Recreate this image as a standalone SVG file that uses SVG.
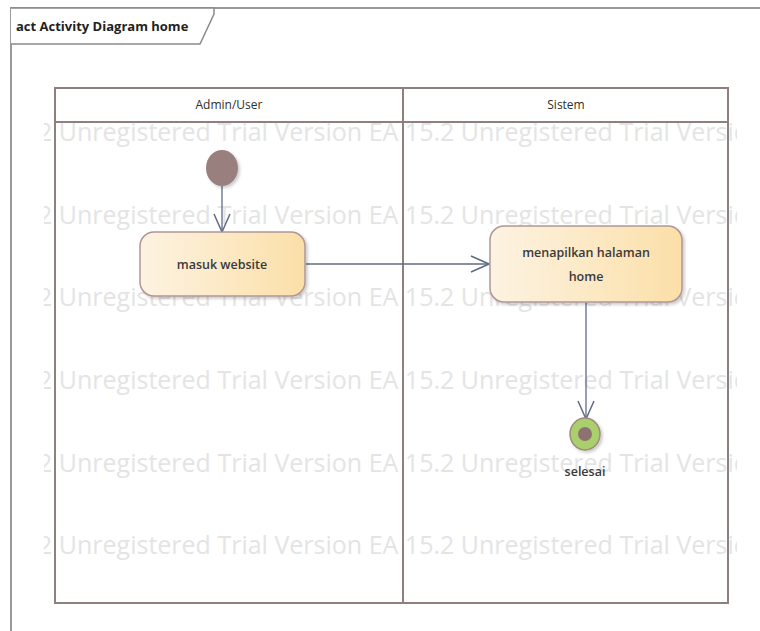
<svg xmlns="http://www.w3.org/2000/svg" width="760" height="631" viewBox="0 0 760 631">
<defs>
<linearGradient id="act" x1="0" y1="0" x2="1" y2="0">
<stop offset="0" stop-color="#fdf3e2"/>
<stop offset="1" stop-color="#fbdfa8"/>
</linearGradient>
<marker id="open" viewBox="0 0 20 20" refX="19" refY="10" markerWidth="20" markerHeight="20" markerUnits="userSpaceOnUse" orient="auto">
<path d="M1,2 L19,10 L1,18" fill="none" stroke="#5f6b86" stroke-width="1.5"/>
</marker>
<clipPath id="wm"><rect x="44" y="110" width="693" height="480"/></clipPath>
<filter id="sh" x="-10%" y="-10%" width="130%" height="130%"><feDropShadow dx="2" dy="2" stdDeviation="1.5" flood-color="#000" flood-opacity="0.2"/></filter>
</defs>
<style>
.frame{fill:none;stroke:#9a9a9a;stroke-width:2}
.lane{fill:none;stroke:#8f7f7f;stroke-width:2}
.wm{font-family:"Open Sans","Noto Sans",sans-serif;font-size:25px;fill:#e4e4e4}
.lbl{font-family:"Open Sans","Noto Sans",sans-serif;font-size:12.5px;font-weight:600;fill:#3a3a3a;text-anchor:middle}
.hdr{font-family:"Open Sans","Noto Sans",sans-serif;font-size:12px;fill:#2e2e2e;text-anchor:middle}
.box{fill:url(#act);stroke:#b09696;stroke-width:1.5}
.edge{fill:none;stroke:#5f6b86;stroke-width:1.3;marker-end:url(#open)}
</style>
<rect width="760" height="631" fill="#fff"/>
<g id="frame">
<path class="frame" d="M11,631 L11,8 L760,8"/>
<path d="M11,8 L214,8 L214,14 L200,44 L11,44" fill="#fff" stroke="#8a8a8a" stroke-width="1.5"/>
<text x="16" y="31" font-family="'Open Sans','Noto Sans',sans-serif" font-size="13" font-weight="700" fill="#222">act Activity Diagram home</text>
</g>
<g id="watermark" clip-path="url(#wm)">
<text class="wm" x="38" y="141">2 Unregistered Trial Version EA 15.2 Unregistered Trial Version</text>
<text class="wm" x="38" y="224">2 Unregistered Trial Version EA 15.2 Unregistered Trial Version</text>
<text class="wm" x="38" y="306">2 Unregistered Trial Version EA 15.2 Unregistered Trial Version</text>
<text class="wm" x="38" y="389">2 Unregistered Trial Version EA 15.2 Unregistered Trial Version</text>
<text class="wm" x="38" y="472">2 Unregistered Trial Version EA 15.2 Unregistered Trial Version</text>
<text class="wm" x="38" y="554">2 Unregistered Trial Version EA 15.2 Unregistered Trial Version</text>
</g>
<g id="lanes">
<rect class="lane" x="55" y="88" width="673" height="515"/>
<line class="lane" x1="55" y1="122" x2="728" y2="122"/>
<line class="lane" x1="403" y1="88" x2="403" y2="603"/>
<text class="hdr" x="229" y="109">Admin/User</text>
<text class="hdr" x="566" y="109">Sistem</text>
</g>
<g id="connectors">
<line class="edge" x1="222" y1="186" x2="222" y2="232"/>
<line class="edge" x1="306" y1="264" x2="489" y2="264"/>
<line class="edge" x1="586" y1="303" x2="586" y2="419"/>
</g>
<g id="start">
<ellipse cx="222" cy="168" rx="16" ry="18" fill="#9a7f7f" filter="url(#sh)"/>
</g>
<g id="masuk">
<rect class="box" x="140" y="232" width="165" height="64" rx="14" filter="url(#sh)"/>
<text class="lbl" x="222" y="269">masuk website</text>
</g>
<g id="menampilkan">
<rect class="box" x="490" y="226" width="192" height="76" rx="14" filter="url(#sh)"/>
<text class="lbl" x="586" y="257">menapilkan halaman</text>
<text class="lbl" x="586" y="281">home</text>
</g>
<g id="selesai">
<ellipse cx="585" cy="434" rx="15" ry="16" fill="#a9d06c" stroke="#a08a7a" stroke-width="1.5" filter="url(#sh)"/>
<circle cx="585" cy="434" r="7" fill="#8e7272"/>
<text class="lbl" x="585" y="476" font-weight="400" font-size="12">selesai</text>
</g>
</svg>
